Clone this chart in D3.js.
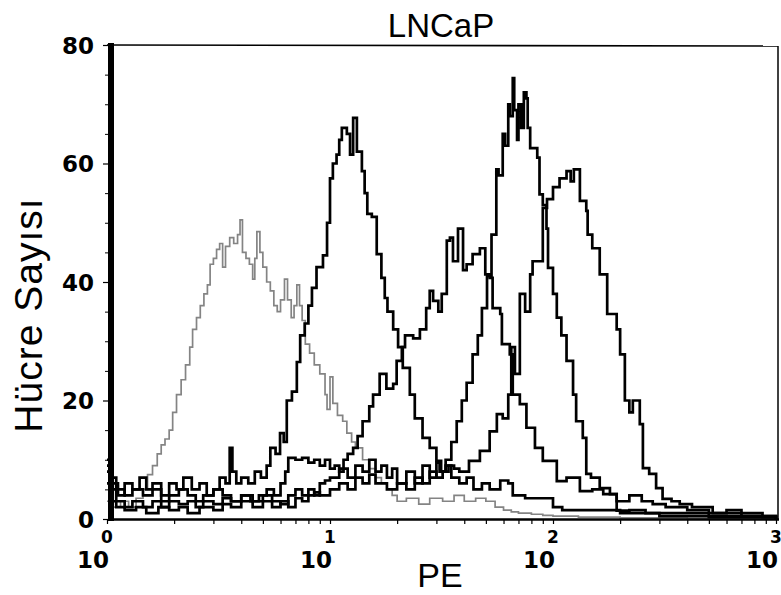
<!DOCTYPE html>
<html>
<head>
<meta charset="utf-8">
<script src="https://cdn.jsdelivr.net/npm/d3@7/dist/d3.min.js"></script>
<style>
  body { margin: 0; background: #fff; }
  svg { display: block; }
</style>
</head>
<body>
<svg id="chart" width="781" height="595"></svg>
<script>
// ---- data (PE value, cell count) ----
const title = "LNCaP";
const yLabel = "Hücre Sayısı";
const xLabel = "PE";
const yTicks = [0, 20, 40, 60, 80];
const xTickExponents = [0, 1, 2, 3];

const seriesGray = [[1,3],[1.05,2],[1.15,3],[1.25,2],[1.35,3.5],[1.45,5],[1.52,7.5],[1.6,9],[1.68,11],[1.75,12.5],[1.82,13.5],[1.9,15],[1.97,18],[2.05,21],[2.15,23.5],[2.25,26],[2.35,29],[2.42,32],[2.52,34],[2.62,36],[2.72,38],[2.82,39.5],[2.9,43],[3.0,44],[3.1,45.5],[3.2,46.5],[3.3,42.5],[3.4,46],[3.55,47.5],[3.7,46.5],[3.85,48],[3.95,50.5],[4.05,45],[4.2,44],[4.35,43],[4.5,40.5],[4.6,44],[4.7,48.5],[4.85,45],[5.0,42.5],[5.2,40],[5.4,38.5],[5.6,36],[5.8,35],[6.0,37],[6.25,40.5],[6.45,37],[6.7,34],[6.9,36],[7.1,39.5],[7.3,36],[7.5,33.5],[7.75,29.5],[8.1,28],[8.5,26],[9.0,24.5],[9.5,21],[9.7,18.5],[10.0,24],[10.3,19.5],[10.8,17.5],[11.4,16.5],[11.9,14.5],[12.5,13],[13,12],[14,10],[15,8.5],[16,7],[17,6],[18,5],[19,4],[20,3],[22,3.5],[25,2.5],[28,3.5],[32,3],[36,4],[40,3],[45,3.5],[50,3],[55,2],[60,1.5],[65,1.2],[70,1],[80,0.8],[90,0.6],[100,0.5],[130,0.3],[200,0.2],[400,0.1],[1000,0]];

const seriesA = [[1,9],[1.05,6],[1.12,4],[1.2,6],[1.3,5],[1.4,7],[1.5,5],[1.6,6],[1.75,4],[1.9,6],[2.05,5],[2.2,7],[2.4,5],[2.6,6],[2.8,4],[3.0,5],[3.2,7],[3.4,6],[3.55,12],[3.65,8],[3.8,6],[4.0,7],[4.3,6],[4.6,8],[4.9,7],[5.2,9],[5.4,12],[5.7,11],[5.97,14.5],[6.2,13],[6.4,20],[6.75,21.5],[7.1,26.5],[7.35,31],[7.7,33],[8.0,36],[8.3,39],[8.7,42.5],[9.3,44.5],[9.7,50],[10,57.5],[10.3,60],[10.7,61.5],[11.0,64],[11.3,66],[11.9,65],[12.3,61.5],[12.7,67.7],[13.2,62],[13.9,58.7],[14.3,55],[14.7,51.5],[15.4,51],[16.2,44.7],[17,40.7],[17.6,37.3],[18.1,35],[19.2,32],[20.2,29],[21.2,25.5],[22.8,21],[24,17],[26,13.7],[28,12],[30,9.8],[31.5,8],[33,9],[35,7],[38,6],[41,7],[44,5],[48,6],[52,5],[55,5],[58,6.5],[63,6],[66,4],[75,3.5],[90,3.5],[100,2],[110,1.5],[150,1.5],[200,1],[300,0.5],[500,0.3],[1000,0]];

const seriesB = [[1,8],[1.05,5],[1.1,3],[1.2,2],[1.3,3],[1.45,2],[1.6,3],[1.75,2],[1.9,3],[2.1,2.5],[2.3,3],[2.5,2],[2.7,3],[3.0,2.5],[3.3,3.5],[3.6,3],[4.0,4],[4.4,3],[4.8,4],[5.2,5],[5.6,4],[6.0,6],[6.3,8],[6.5,10.3],[7,10],[7.5,10.3],[8,9.5],[8.5,10],[9,9],[9.5,10],[10,8.5],[10.5,9],[11,8],[11.5,10],[12,11],[12.7,12],[13.3,14],[14,16.5],[15,19],[15.6,21],[16.7,24.5],[17.9,22],[19.2,22.8],[19.9,26.7],[21,29],[21.7,31],[23.6,30.5],[25.3,32],[27,35.6],[28,38.5],[29,36.8],[30.6,35],[31.7,38],[33.4,47],[34.5,47.5],[35.6,43.5],[37.5,49],[39.5,42],[41,43],[43.6,44.7],[47,45.7],[49.7,41.3],[52,40.7],[53.6,35.6],[58,34.6],[59,29.5],[64,27.8],[66,21],[71,19.4],[76,15.4],[83,12],[90,9.8],[97,9.8],[104,6.4],[115,7],[132,4.7],[150,5],[168,4.2],[193,3],[220,4],[250,3],[280,2.5],[320,2],[400,1.5],[500,1],[700,0.5],[1000,0]];

const seriesC = [[1,10],[1.05,7],[1.1,5],[1.2,4],[1.3,5],[1.45,4],[1.6,5],[1.75,3],[1.9,4],[2.1,5],[2.3,4],[2.5,3],[2.7,4],[3.0,5],[3.3,4],[3.6,3],[4.0,4],[4.5,3],[5.0,4],[5.5,3],[6,2.5],[6.5,4],[7,5],[7.5,4],[8,5],[8.5,4],[9,6],[9.5,6.5],[10,7],[11,8.5],[12,7],[13,9],[14,8],[15,10],[16,8],[17,9],[18,7],[19,8.5],[20,6],[22,8],[24,6],[26,9],[28,7],[30,9.5],[31,8],[33,10],[35,13],[37,16.5],[39,20],[41,23],[43.6,27.8],[46,31],[48,35.6],[50.6,41],[53,48],[55.7,59],[57,58],[59.5,65],[61,63],[63,70],[64,68],[66,74.4],[67,69],[69,64],[70,70],[72,66],[74,72],[76,71],[77,66],[79,62.6],[85,61],[87,54.8],[90,53],[93.5,49],[95,42.4],[100,38],[104,34],[109,31],[115,26.7],[123,21],[127,16.5],[136,13.7],[141,7.6],[148,7],[162,5.2],[180,4.2],[193,1.4],[220,1.5],[260,1],[350,1],[500,0.5],[800,0.5],[1000,0]];

const seriesD = [[1,6],[1.05,3],[1.1,2],[1.2,1.5],[1.35,2],[1.5,1],[1.7,2],[1.9,1.5],[2.1,2],[2.3,1],[2.6,2],[3,1.5],[3.3,2.5],[3.6,2],[4,3],[4.5,2],[5,3],[5.5,2],[6,3],[6.5,2],[7,3.5],[7.5,3],[8,4],[8.5,4.5],[9,4],[10,5],[11,6],[12,5],[13,7],[14,6],[15,7.5],[16,6],[18,5],[20,6],[22,5],[24,7],[26,6],[28,8],[30,7],[32,8],[34,9],[36,8.5],[38,8],[42,9.8],[47,11.5],[52,14.8],[56,17.7],[59.5,17],[63,21],[65,29],[67.5,24.5],[71,38],[75,35],[79,41.3],[81,43.5],[87,43.5],[90,52.5],[94,54],[100,56],[107,57.5],[115,58.7],[120,57],[124,59],[132,53.7],[141,52],[143,48],[150,45.7],[162,41.3],[175,34.6],[193,32],[200,27.8],[210,20],[220,18],[228,20],[245,16],[253,8.6],[270,7.6],[290,5.2],[310,3.4],[340,3],[370,2.5],[420,2],[520,1],[600,1.5],[700,1],[870,0.3],[1000,0]];

// ---- drawing ----
const svg = d3.select("#chart");
const x = d3.scaleLog().domain([1, 1000]).range([107, 776]);
const y = d3.scaleLinear().domain([0, 80]).range([519, 45]);

// curves
const line = d3.line()
  .x(d => x(d[0]))
  .y(d => y(d[1]))
  .curve(d3.curveStepAfter);

svg.append("path").datum(seriesGray)
  .attr("d", line).attr("fill", "none")
  .attr("stroke", "#848484").attr("stroke-width", 1.7);

[seriesA, seriesB, seriesC, seriesD].forEach(s => {
  svg.append("path").datum(s)
    .attr("d", line).attr("fill", "none")
    .attr("stroke", "#000").attr("stroke-width", 2.7)
    .attr("stroke-linejoin", "miter");
});

// frame
svg.append("line").attr("x1", 107).attr("x2", 778).attr("y1", 45).attr("y2", 46)
  .attr("stroke", "#000").attr("stroke-width", 1.6);
svg.append("line").attr("x1", 778).attr("x2", 778).attr("y1", 46).attr("y2", 520)
  .attr("stroke", "#000").attr("stroke-width", 1.5);
svg.append("line").attr("x1", 108).attr("x2", 779).attr("y1", 519.5).attr("y2", 519.5)
  .attr("stroke", "#000").attr("stroke-width", 2.5);
svg.append("line").attr("x1", 111).attr("x2", 111).attr("y1", 43).attr("y2", 521)
  .attr("stroke", "#000").attr("stroke-width", 6);

// y axis
const yAxis = d3.axisLeft(y).tickValues(yTicks).tickSize(5).tickPadding(9)
  .tickFormat(d3.format("d"));
const gy = svg.append("g").attr("transform", "translate(108,0)").call(yAxis);
gy.select(".domain").remove();
gy.selectAll("text")
  .attr("font-family", "DejaVu Sans").attr("font-weight", "bold")
  .attr("font-size", 23).attr("dy", "0.36em").attr("fill", "#000");
gy.selectAll("line").attr("stroke-width", 1.2);
// minor y ticks
const yMinor = d3.axisLeft(y).tickValues(d3.range(5, 80, 5).filter(v => v % 20 !== 0))
  .tickSize(3).tickFormat("");
const gym = svg.append("g").attr("transform", "translate(108,0)").call(yMinor);
gym.select(".domain").remove();
gym.selectAll("line").attr("stroke-width", 1);

// x axis ticks (log minor ticks)
const xTickVals = [];
for (let e = 0; e < 3; e++) for (let m = 1; m < 10; m++) xTickVals.push(m * Math.pow(10, e));
xTickVals.push(1000);
const xAxis = d3.axisBottom(x).tickValues(xTickVals)
  .tickSize(4).tickFormat("");
const gx = svg.append("g").attr("transform", "translate(0,520)").call(xAxis);
gx.select(".domain").remove();
gx.selectAll("line").attr("stroke-width", 1.2);

// x tick labels 10^n (one text each, superscript as tspan)
xTickExponents.forEach(e => {
  const px = x(Math.pow(10, e));
  const t = svg.append("text").attr("x", px - 30).attr("y", 568)
    .attr("text-anchor", "start")
    .attr("font-family", "DejaVu Sans").attr("font-weight", "bold")
    .attr("font-size", 23);
  t.append("tspan").text("10");
  t.append("tspan").attr("dx", -8).attr("dy", -25).attr("font-size", 17).text(String(e));
});

// titles
svg.append("text").attr("x", 441).attr("y", 37).attr("text-anchor", "middle")
  .attr("font-family", "Liberation Sans, Arial, sans-serif").attr("font-size", 33)
  .text(title);
svg.append("text").attr("x", 440).attr("y", 587).attr("text-anchor", "middle")
  .attr("font-family", "Liberation Sans, Arial, sans-serif").attr("font-size", 34)
  .text(xLabel);
svg.append("text")
  .attr("transform", "translate(42,315) rotate(-90)")
  .attr("text-anchor", "middle")
  .attr("font-family", "Liberation Sans, Arial, sans-serif").attr("font-size", 39)
  .attr("letter-spacing", 1)
  .text(yLabel);
</script>
</body>
</html>
